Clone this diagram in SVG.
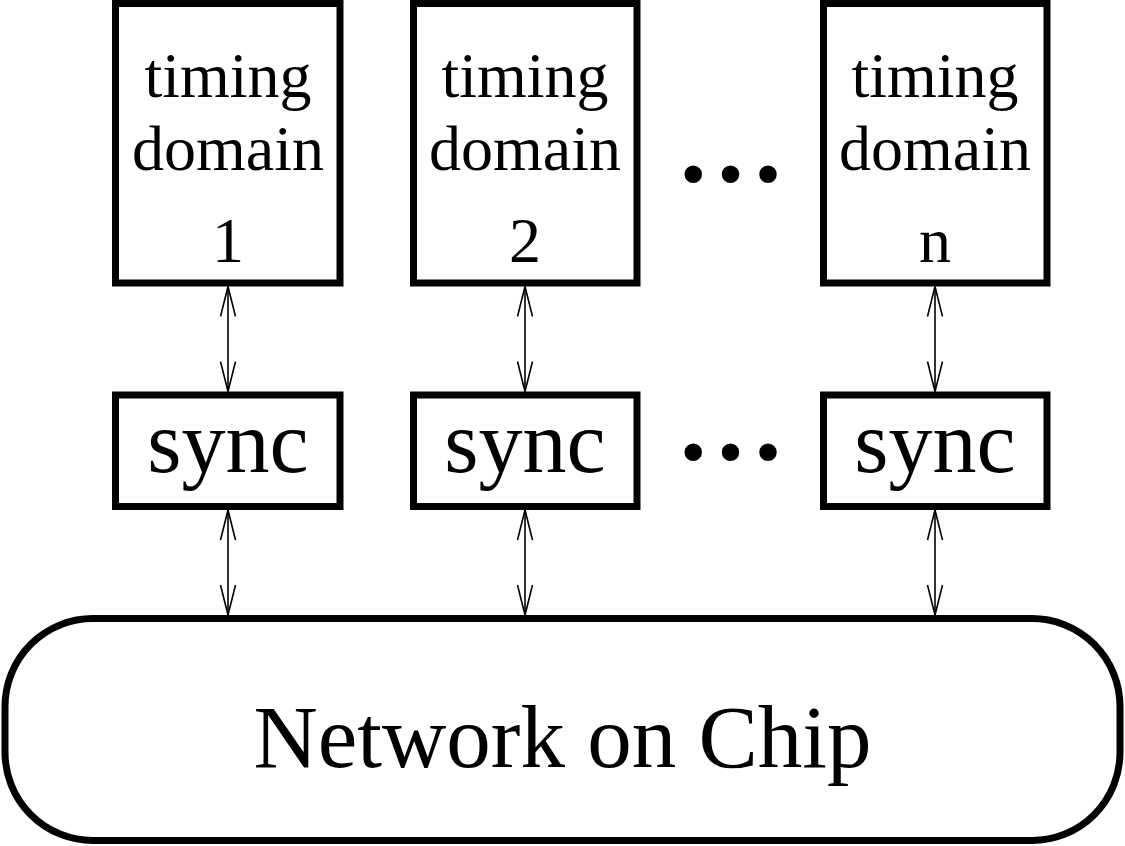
<svg xmlns="http://www.w3.org/2000/svg" width="1125" height="846" viewBox="0 0 1125 846">
  <style>
    .box { fill: #ffffff; stroke: #000000; stroke-width: 7; }
    .t64 { font-family: "Liberation Serif", "Times New Roman", serif; font-size: 64px; text-anchor: middle; fill: #000; }
    .t88 { font-family: "Liberation Serif", "Times New Roman", serif; font-size: 88px; text-anchor: middle; fill: #000; }
    .t89 { font-family: "Liberation Serif", "Times New Roman", serif; font-size: 89px; text-anchor: middle; fill: #000; }
    .dots { font-family: "Liberation Serif", "Times New Roman", serif; font-size: 108px; font-weight: bold; letter-spacing: 10.3px; fill: #000; }
    .conn { stroke: #000; stroke-width: 1.6; fill: none; marker-start: url(#head); marker-end: url(#head); }
  </style>
  <defs>
    <marker id="head" markerUnits="userSpaceOnUse" markerWidth="40" markerHeight="20" viewBox="-32 -10 34 20" refX="0" refY="0" orient="auto-start-reverse">
      <path d="M-30,-7.5 L0,0 L-30,7.5" fill="none" stroke="#000" stroke-width="1.6"/>
    </marker>
  </defs>
  <rect width="1125" height="846" fill="#ffffff"/>

  <g id="td1">
    <rect class="box" x="115.5" y="3.5" width="224.5" height="279.5"/>
    <text class="t64" x="228" y="97">timing</text>
    <text class="t64" x="228" y="170">domain</text>
    <text class="t64" x="228" y="262">1</text>
  </g>
  <g id="td2">
    <rect class="box" x="413.5" y="3.5" width="223.5" height="279.5"/>
    <text class="t64" x="525" y="97">timing</text>
    <text class="t64" x="525" y="170">domain</text>
    <text class="t64" x="525" y="262">2</text>
  </g>
  <g id="tdn">
    <rect class="box" x="823.5" y="3.5" width="223.5" height="279.5"/>
    <text class="t64" x="935" y="97">timing</text>
    <text class="t64" x="935" y="170">domain</text>
    <text class="t64" x="935" y="262">n</text>
  </g>
  <g id="dots-top">
    <text class="dots" x="679.8" y="180.7">...</text>
  </g>

  <g id="sync1">
    <rect class="box" x="115.5" y="395" width="224.5" height="111.5"/>
    <text class="t88" x="228" y="472">sync</text>
  </g>
  <g id="sync2">
    <rect class="box" x="413.5" y="395" width="223.5" height="111.5"/>
    <text class="t88" x="525" y="472">sync</text>
  </g>
  <g id="syncn">
    <rect class="box" x="823.5" y="395" width="223.5" height="111.5"/>
    <text class="t88" x="935" y="472">sync</text>
  </g>
  <g id="dots-mid">
    <text class="dots" x="679.8" y="459">...</text>
  </g>

  <g id="noc">
    <rect class="box" x="5" y="618.5" width="1115" height="222" rx="88" ry="88"/>
    <text class="t89" x="562.5" y="767">Network on Chip</text>
  </g>

  <g id="connectors">
    <line class="conn" x1="228" y1="286.5" x2="228" y2="391.5"/>
    <line class="conn" x1="525" y1="286.5" x2="525" y2="391.5"/>
    <line class="conn" x1="935" y1="286.5" x2="935" y2="391.5"/>
    <line class="conn" x1="228" y1="510" x2="228" y2="615"/>
    <line class="conn" x1="525" y1="510" x2="525" y2="615"/>
    <line class="conn" x1="935" y1="510" x2="935" y2="615"/>
  </g>
</svg>
